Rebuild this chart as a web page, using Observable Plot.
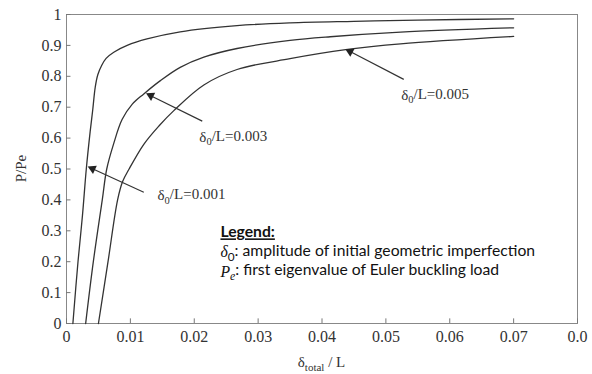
<!DOCTYPE html>
<html>
<head>
<meta charset="utf-8">
<script src="https://cdn.jsdelivr.net/npm/d3@7"></script>
<script src="https://cdn.jsdelivr.net/npm/@observablehq/plot@0.6"></script>
<style>
  html, body { margin: 0; padding: 0; background: #fff; }
</style>
</head>
<body>
<div id="chart"></div>
<script>
// ---- data ----
const xTicks = [0, 0.01, 0.02, 0.03, 0.04, 0.05, 0.06, 0.07, 0.08];
const xTickLabels = ["0", "0.01", "0.02", "0.03", "0.04", "0.05", "0.06", "0.07", "0.0"];
const yTicks = [0, 0.1, 0.2, 0.3, 0.4, 0.5, 0.6, 0.7, 0.8, 0.9, 1];
const yTickLabels = ["0", "0.1", "0.2", "0.3", "0.4", "0.5", "0.6", "0.7", "0.8", "0.9", "1"];

const series = ["δ0/L=0.001", "δ0/L=0.003", "δ0/L=0.005"];
// [δtotal/L, P/Pe]
const curve001 = [[0.001,0],[0.0018,0.2],[0.0025,0.35],[0.0031,0.5],[0.0037,0.62],[0.0041,0.69],[0.0045,0.765],[0.0049,0.805],[0.0055,0.835],[0.0062,0.858],[0.0074,0.878],[0.0095,0.9],[0.0126,0.921],[0.0178,0.944],[0.0267,0.964],[0.035,0.973],[0.045,0.978],[0.055,0.982],[0.07,0.986]];
const curve003 = [[0.003,0],[0.0042,0.2],[0.0056,0.4],[0.0063,0.5],[0.0074,0.583],[0.0087,0.66],[0.0103,0.71],[0.0121,0.743],[0.0147,0.786],[0.0178,0.829],[0.0215,0.862],[0.0267,0.89],[0.035,0.916],[0.0413,0.928],[0.0523,0.943],[0.07,0.957]];
const curve005 = [[0.005,0],[0.0065,0.2],[0.008,0.4],[0.0088,0.46],[0.0098,0.5],[0.0121,0.58],[0.0145,0.64],[0.0168,0.689],[0.0215,0.772],[0.0267,0.822],[0.035,0.857],[0.0437,0.886],[0.0523,0.905],[0.07,0.929]];

// annotation arrows (tail -> tip) and labels, in data units
const arrowTail = [[0.0121,0.425],[0.02125,0.655],[0.0528,0.790]];
const arrowTip  = [[0.0035,0.506],[0.01263,0.743],[0.04384,0.886]];
const labelPos  = [[0.01425,0.414],[0.0208,0.602],[0.0524,0.738]];

const legendLines = ["Legend:", "δ0: amplitude of initial geometric imperfection", "Pe: first eigenvalue of Euler buckling load"];
const legendPos = [[0.0241,0.295],[0.0241,0.231],[0.0241,0.168]];

// ---- layout ----
const W = 592, H = 374, mL = 66, mR = 15, mT = 14, mB = 51;
const kx = (W - mL - mR) / 0.08, ky = (H - mT - mB) / 1;

const lines = [curve001, curve003, curve005].flatMap((c, i) => c.map(([x, y]) => ({x, y, s: series[i]})));

const arrows = arrowTail.map(([x1, y1], i) => {
  const [x2, y2] = arrowTip[i];
  const dxp = (x2 - x1) * kx, dyp = -(y2 - y1) * ky;
  const len = Math.hypot(dxp, dyp);
  const back = 4;
  const cx = x2 - (dxp / len * back) / kx;
  const cy = y2 + (dyp / len * back) / ky;
  return {x1, y1, x2, y2, cx, cy, angle: Math.atan2(dxp, -dyp) * 180 / Math.PI};
});
const labels = labelPos.map(([x, y], i) => ({x, y, t: series[i]}));
const legend = legendPos.map(([x, y], i) => ({x, y, t: legendLines[i]}));
const xTickData = xTicks.map((v, i) => ({v, t: xTickLabels[i]}));
const yTickData = yTicks.map((v, i) => ({v, t: yTickLabels[i]}));

const serif = "'Liberation Serif', 'Times New Roman', serif";

const plot = Plot.plot({
  width: W, height: H,
  marginLeft: mL, marginRight: mR, marginTop: mT, marginBottom: mB,
  style: {fontFamily: serif, fontSize: "15px", color: "#333", background: "#fff", overflow: "visible"},
  x: {domain: [0, 0.08], axis: null},
  y: {domain: [0, 1], axis: null},
  marks: [
    Plot.frame({stroke: "#888", strokeWidth: 1}),
    Plot.ruleX(xTicks, {x: d => d, y1: 0, y2: 0.015, stroke: "#777"}),
    Plot.ruleY(yTicks, {y: d => d, x1: 0, x2: 0.0007, stroke: "#777"}),
    Plot.text(xTickData, {x: "v", y: () => 0, text: "t", dy: 13, fontFamily: serif, fontSize: 16, fill: "#333"}),
    Plot.text(yTickData, {x: () => 0, y: "v", text: "t", dx: -5, textAnchor: "end", fontFamily: serif, fontSize: 16, fill: "#333"}),
    Plot.line(lines, {x: "x", y: "y", z: "s", stroke: "#333", strokeWidth: 1.3, curve: "catmull-rom"}),
    Plot.link(arrows, {x1: "x1", y1: "y1", x2: "cx", y2: "cy", stroke: "#333", strokeWidth: 1.2}),
    Plot.dot(arrows, {x: "cx", y: "cy", symbol: "triangle", r: 3.4, fill: "#222", stroke: "none", rotate: "angle"}),
    Plot.text(labels, {x: "x", y: "y", text: "t", textAnchor: "start", fontFamily: serif, fontSize: 15, fill: "#333"}),
    Plot.text(legend, {x: "x", y: "y", text: "t", textAnchor: "start", fontFamily: "Lato", fontSize: 15.7, fill: "#111"})
  ]
});

document.getElementById("chart").appendChild(plot);

const svg = d3.select(plot);

// rich-text formatting (subscripts, bold, italics)
svg.selectAll("text").each(function () {
  const t = this.textContent;
  const el = d3.select(this);
  if (series.includes(t)) {
    const rest = t.slice(2);
    el.text(null);
    el.append("tspan").text("δ");
    el.append("tspan").attr("font-size", "70%").attr("dy", "0.3em").text("0");
    el.append("tspan").attr("dy", "-0.3em").text(rest);
  } else if (t === legendLines[0]) {
    el.attr("font-weight", "bold").attr("text-decoration", "underline");
  } else if (t === legendLines[1]) {
    el.text(null);
    el.append("tspan").attr("font-style", "italic").attr("font-family", "Liberation Serif").text("δ");
    el.append("tspan").attr("font-size", "75%").attr("dy", "0.3em").text("0");
    el.append("tspan").attr("dy", "-0.3em").text(t.slice(2));
  } else if (t === legendLines[2]) {
    el.text(null);
    el.append("tspan").attr("font-style", "italic").attr("font-family", "Liberation Serif").text("P");
    el.append("tspan").attr("font-style", "italic").attr("font-family", "Liberation Serif").attr("font-size", "75%").attr("dy", "0.3em").text("e");
    el.append("tspan").attr("dy", "-0.3em").text(t.slice(2));
  }
});

// axis titles
svg.append("text")
  .attr("transform", `translate(${mL - 45},${(mT + H - mB) / 2}) rotate(-90)`)
  .attr("text-anchor", "middle").attr("dy", "0.35em")
  .attr("font-family", serif)
  .attr("fill", "#333").attr("font-size", 15)
  .text("P/Pe");
const xl = svg.append("text")
  .attr("x", (mL + W - mR) / 2).attr("y", H - 7)
  .attr("text-anchor", "middle").attr("font-family", serif).attr("fill", "#333").attr("font-size", 15);
xl.append("tspan").text("δ");
xl.append("tspan").attr("font-size", 11).attr("dy", 4).text("total");
xl.append("tspan").attr("dy", -4).text(" / L");
</script>
</body>
</html>
